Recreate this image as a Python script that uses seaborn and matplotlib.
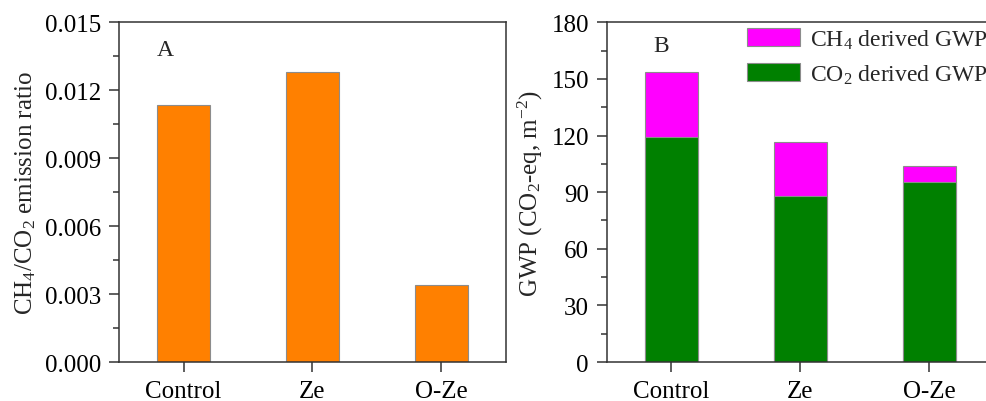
import matplotlib
matplotlib.use("Agg")
import matplotlib.pyplot as plt
from matplotlib.patches import Patch
from matplotlib.ticker import MultipleLocator
import seaborn as sns

# data
treatments = ["Control", "Ze", "O-Ze"]
ratio = [0.01134, 0.01282, 0.00338]
gwp_co2 = [119.4, 88.0, 95.5]
gwp_total = [153.5, 116.6, 103.9]

sns.set_style("ticks")
plt.rcParams["font.family"] = ["Liberation Serif", "DejaVu Serif"]
plt.rcParams["mathtext.default"] = "regular"
plt.rcParams["axes.edgecolor"] = "#333333"
plt.rcParams["axes.linewidth"] = 1.1
plt.rcParams["xtick.color"] = "#333333"
plt.rcParams["ytick.color"] = "#333333"
plt.rcParams["xtick.labelcolor"] = "black"
plt.rcParams["ytick.labelcolor"] = "black"

FS = 18
fig = plt.figure(figsize=(9.87, 4.02), dpi=100)
ax1 = fig.add_axes([0.1206, 0.097, 0.392, 0.845])
ax2 = fig.add_axes([0.615, 0.097, 0.392, 0.845])

# panel A
sns.barplot(x=treatments, y=ratio, color="#FF8000", width=0.41,
            edgecolor="#8c8c8c", linewidth=0.8, saturation=1, ax=ax1)
ax1.set_ylim(0, 0.015)
ax1.yaxis.set_major_locator(MultipleLocator(0.003))
ax1.yaxis.set_minor_locator(MultipleLocator(0.0015))
ax1.yaxis.set_major_formatter(matplotlib.ticker.FormatStrFormatter("%.3f"))
ax1.set_ylabel("CH$_4$/CO$_2$ emission ratio", fontsize=FS, labelpad=5)
ax1.text(0.098, 0.921, "A", transform=ax1.transAxes, fontsize=17, va="center")

# panel B (stacked: total drawn first, CO2 part on top of it)
sns.barplot(x=treatments, y=gwp_total, color="#FF00FF", width=0.41,
            edgecolor="#8c8c8c", linewidth=0.8, saturation=1, ax=ax2)
sns.barplot(x=treatments, y=gwp_co2, color="#008000", width=0.41,
            edgecolor="#8c8c8c", linewidth=0.8, saturation=1, ax=ax2)
ax2.set_ylim(0, 180)
ax2.yaxis.set_major_locator(MultipleLocator(30))
ax2.yaxis.set_minor_locator(MultipleLocator(15))
ax2.set_ylabel("GWP (CO$_2$-eq, m$^{-2}$)", fontsize=FS, labelpad=5)
ax2.text(0.121, 0.933, "B", transform=ax2.transAxes, fontsize=17, va="center")

handles = [Patch(facecolor="#FF00FF", edgecolor="#8c8c8c", linewidth=0.8),
           Patch(facecolor="#008000", edgecolor="#8c8c8c", linewidth=0.8)]
ax2.legend(handles, ["CH$_4$ derived GWP", "CO$_2$ derived GWP"],
           loc="upper left", bbox_to_anchor=(0.362, 0.985), frameon=False,
           fontsize=17, handlelength=2.25, handleheight=0.77,
           handletextpad=0.4, labelspacing=0.5, borderpad=0, borderaxespad=0)

for ax in (ax1, ax2):
    ax.set_xlim(-0.5, 2.5)
    ax.set_xlabel("")
    ax.tick_params(axis="both", which="major", direction="out", length=7,
                   width=1.1, labelsize=FS, pad=6)
    ax.tick_params(axis="y", which="minor", direction="out", length=4, width=1.1)
    ax.tick_params(top=False, right=False)
    for s in ax.spines.values():
        s.set_visible(True)

fig.savefig("out.png", dpi=100)
